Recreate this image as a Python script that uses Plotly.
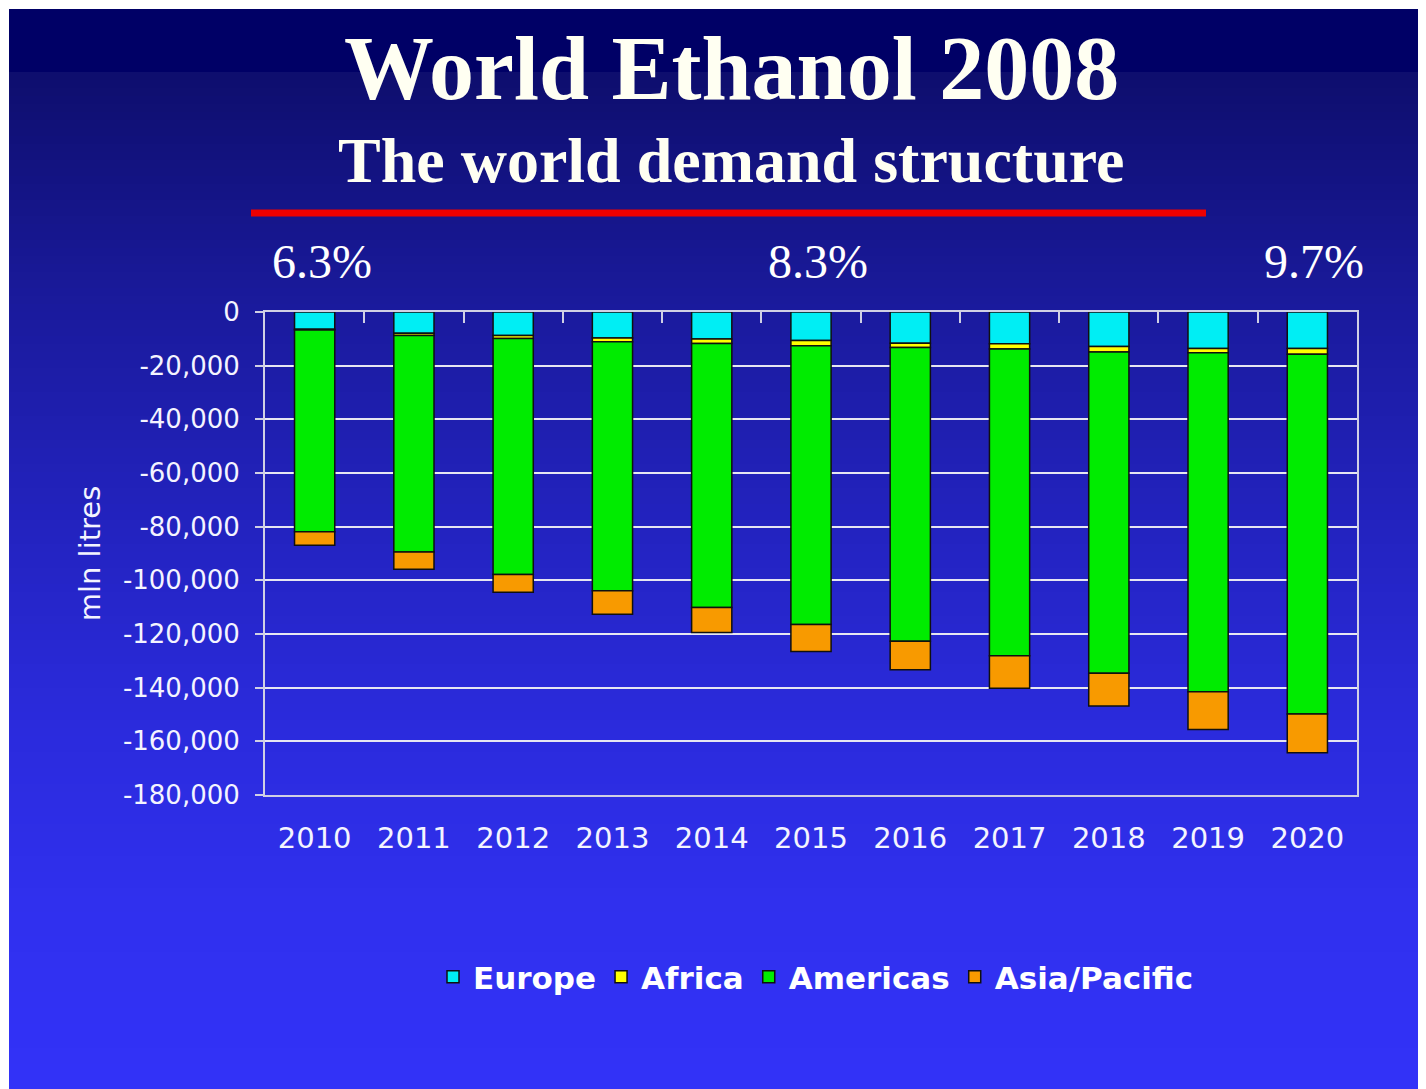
"""World Ethanol 2008 - world demand structure, stacked (negative) bars."""
import plotly.graph_objects as go

# ---- data (mln litres, plotted as negative demand) ----
YEARS = ["2010", "2011", "2012", "2013", "2014", "2015",
         "2016", "2017", "2018", "2019", "2020"]
EUROPE = [-6400, -7900, -8800, -9700, -10100, -10600,
          -11600, -11800, -12900, -13600, -13600]
AFRICA = [-300, -900, -1100, -1400, -1600, -2000,
          -1600, -2000, -2000, -1600, -2100]
AMERICAS = [-75200, -80600, -87900, -92800, -98400, -103900,
            -109500, -114300, -119700, -126300, -134100]
ASIA_PACIFIC = [-5000, -6500, -6600, -8700, -9300, -10000,
                -10600, -12100, -12200, -14100, -14500]

SHARE_YEARS = ["2010", "2015", "2020"]
SHARE_LABELS = ["6.3%", "8.3%", "9.7%"]

Y_TICKS = [0, -20000, -40000, -60000, -80000, -100000,
           -120000, -140000, -160000, -180000]

# ---- page geometry (px, page coords; the html body adds an 8px offset) ----
PAGE_W, PAGE_H, OFF = 1426, 1089, 8
W, H = PAGE_W - OFF, PAGE_H - OFF
L, R, T, B = 265, 1357, 312, 795
PW, PH = R - L, B - T


def px_x(x):
    return (x - L) / PW


def px_y(y):
    return (B - y) / PH


SERIES = [
    ("Europe", EUROPE, "#00eef4"),
    ("Africa", AFRICA, "#ffff00"),
    ("Americas", AMERICAS, "#00ec00"),
    ("Asia/Pacific", ASIA_PACIFIC, "#f89a00"),
]

fig = go.Figure()
for name, vals, col in SERIES:
    fig.add_trace(go.Bar(
        x=YEARS, y=vals, name=name,
        marker=dict(color=col, line=dict(color="#101010", width=1.5)),
        hoverinfo="skip",
    ))

# empty trace so the overlay axis (boundary ticks on the zero line) gets drawn
fig.add_trace(go.Scatter(x=[], y=[], xaxis="x2", showlegend=False, hoverinfo="skip"))

AXIS_COL = "#d0d0e4"
n = len(YEARS)

# ---- background: white edge + navy-to-blue slide gradient ----
shapes = []
shapes.append(dict(type="rect", xref="paper", yref="paper",
                   x0=px_x(9), x1=px_x(PAGE_W + 4), y0=px_y(72), y1=px_y(9),
                   fillcolor="#000066", line=dict(width=0), layer="below"))
stops = [(72, (14, 14, 110)), (300, (26, 26, 156)), (500, (34, 34, 188)),
         (700, (42, 42, 218)), (900, (48, 48, 238)), (PAGE_H, (50, 50, 248))]
step = 8
y = 72
while y < PAGE_H:
    for (a, ca), (b, cb) in zip(stops[:-1], stops[1:]):
        if a <= y < b:
            t = (y - a) / (b - a)
            c = tuple(round(ca[i] + (cb[i] - ca[i]) * t) for i in range(3))
            break
    shapes.append(dict(type="rect", xref="paper", yref="paper",
                       x0=px_x(9), x1=px_x(PAGE_W + 4),
                       y0=px_y(min(y + step + 1, PAGE_H + 4)), y1=px_y(y),
                       fillcolor="rgb(%d,%d,%d)" % c, line=dict(width=0),
                       layer="below"))
    y += step

# red rule under the heading
shapes.append(dict(type="line", xref="paper", yref="paper",
                   x0=px_x(251), x1=px_x(1206), y0=px_y(213), y1=px_y(213),
                   line=dict(color="#ee0000", width=7)))

SERIF = "Liberation Serif, Times New Roman, serif"
annotations = [
    dict(text="<b>World Ethanol 2008</b>", xref="paper", yref="paper",
         x=px_x(731), y=px_y(68), showarrow=False, xanchor="center", yanchor="middle",
         font=dict(family=SERIF, size=90, color="#fffff2")),
    dict(text="<b>The world demand structure</b>", xref="paper", yref="paper",
         x=px_x(731), y=px_y(160), showarrow=False, xanchor="center", yanchor="middle",
         font=dict(family=SERIF, size=64, color="#fffff2")),
]
for yr, lab in zip(SHARE_YEARS, SHARE_LABELS):
    # category axes take the index as the annotation position
    annotations.append(dict(
        text=lab, xref="x", yref="paper", x=YEARS.index(yr), y=px_y(262), xshift=7,
        showarrow=False, xanchor="center", yanchor="middle",
        font=dict(family=SERIF, size=48, color="#ffffff")))

fig.update_layout(
    width=W, height=H,
    margin=dict(l=L - OFF, r=PAGE_W - R, t=T - OFF, b=PAGE_H - B, pad=0),
    paper_bgcolor="#ffffff",
    plot_bgcolor="rgba(0,0,0,0)",
    barmode="relative",
    bargap=0.595,
    shapes=shapes,
    annotations=annotations,
    font=dict(family="DejaVu Sans, Verdana, sans-serif", color="#f4f4ff"),
    xaxis=dict(
        type="category", categoryorder="array", categoryarray=YEARS,
        range=[-0.5, n - 0.5],
        showline=True, linecolor=AXIS_COL, linewidth=2, mirror=True,
        ticks="", showgrid=False, zeroline=False,
        tickfont=dict(size=29, color="#f4f4ff"),
        ticklabelstandoff=16,
    ),
    xaxis2=dict(
        overlaying="x", anchor="y", side="top",
        range=[-0.5, n - 0.5],
        tickvals=[i + 0.5 for i in range(n - 1)],
        ticks="inside", ticklen=11, tickwidth=2, tickcolor=AXIS_COL,
        showticklabels=False, showgrid=False, showline=False, zeroline=False,
    ),
    yaxis=dict(
        range=[-180000, 0],
        tickvals=Y_TICKS, ticktext=[f"{v:,}" for v in Y_TICKS],
        showline=True, linecolor=AXIS_COL, linewidth=2, mirror=True,
        ticks="outside", ticklen=8, tickwidth=2, tickcolor=AXIS_COL,
        showgrid=True, gridcolor="#e6e6f2", gridwidth=2,
        zeroline=False,
        tickfont=dict(size=26, color="#f4f4ff"),
        ticklabelstandoff=10,
        title=dict(text="mln litres", standoff=14,
                   font=dict(size=29, color="#f4f4ff")),
    ),
    legend=dict(
        orientation="h", x=px_x(816), xanchor="center",
        y=px_y(977), yanchor="middle",
        font=dict(size=31, color="#ffffff", weight="bold"),
        bgcolor="rgba(0,0,0,0)",
        itemclick=False, itemdoubleclick=False,
    ),
    showlegend=True,
)

fig.write_html("out.html", config={"displayModeBar": False})
